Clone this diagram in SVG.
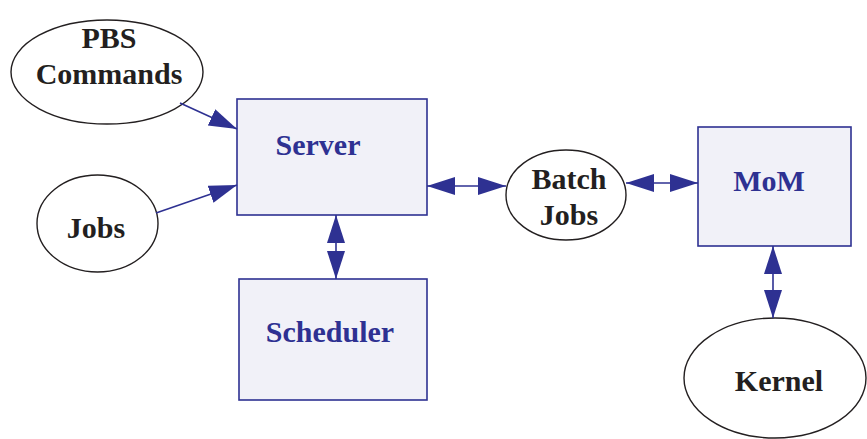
<svg xmlns="http://www.w3.org/2000/svg" width="867" height="439" viewBox="0 0 867 439">
<defs>
<style>
.box{fill:#f1f1f8;stroke:#2e3192;stroke-width:1.6}
.ell{fill:#ffffff;stroke:#231f20;stroke-width:1.4}
.bt{font-family:"Liberation Serif","Times New Roman",serif;font-weight:bold;font-size:30px;fill:#2e3192;text-anchor:middle}
.et{font-family:"Liberation Serif","Times New Roman",serif;font-weight:bold;font-size:30px;fill:#231f20;text-anchor:middle}
.con{stroke:#2e3192;stroke-width:1.6;fill:none}
</style>
<marker id="ah" markerUnits="userSpaceOnUse" markerWidth="30" markerHeight="19" refX="28" refY="9" orient="auto-start-reverse" viewBox="0 0 30 19">
<path d="M0,0 L28,9 L0,18 z" fill="#2e3192"/>
</marker>
</defs>
<rect width="867" height="439" fill="#ffffff"/>
<g id="pbs-commands">
<ellipse class="ell" cx="107" cy="72" rx="96" ry="52"/>
<text class="et" x="109" y="48">PBS</text>
<text class="et" x="109" y="84">Commands</text>
</g>
<g id="jobs">
<ellipse class="ell" cx="97.5" cy="223.5" rx="60.5" ry="48.5"/>
<text class="et" x="96" y="238">Jobs</text>
</g>
<g id="server">
<rect class="box" x="237" y="99" width="190" height="116"/>
<text class="bt" x="318" y="155">Server</text>
</g>
<g id="scheduler">
<rect class="box" x="239" y="279" width="188" height="121"/>
<text class="bt" x="330" y="342">Scheduler</text>
</g>
<g id="batch-jobs">
<ellipse class="ell" cx="566" cy="195" rx="60" ry="45"/>
<text class="et" x="569" y="189">Batch</text>
<text class="et" x="569" y="225">Jobs</text>
</g>
<g id="mom">
<rect class="box" x="698" y="127" width="153" height="119"/>
<text class="bt" x="769" y="191">MoM</text>
</g>
<g id="kernel">
<ellipse class="ell" cx="775" cy="378" rx="91" ry="60"/>
<text class="et" x="779" y="391">Kernel</text>
</g>
<g id="connectors">
<line class="con" x1="180" y1="103" x2="237" y2="129" marker-end="url(#ah)"/>
<line class="con" x1="156" y1="213" x2="237" y2="185" marker-end="url(#ah)"/>
<line class="con" x1="336" y1="215" x2="336" y2="279" marker-start="url(#ah)" marker-end="url(#ah)"/>
<line class="con" x1="427" y1="186" x2="506" y2="186" marker-start="url(#ah)" marker-end="url(#ah)"/>
<line class="con" x1="626" y1="183" x2="698" y2="183" marker-start="url(#ah)" marker-end="url(#ah)"/>
<line class="con" x1="773" y1="246" x2="773" y2="318" marker-start="url(#ah)" marker-end="url(#ah)"/>
</g>
</svg>
